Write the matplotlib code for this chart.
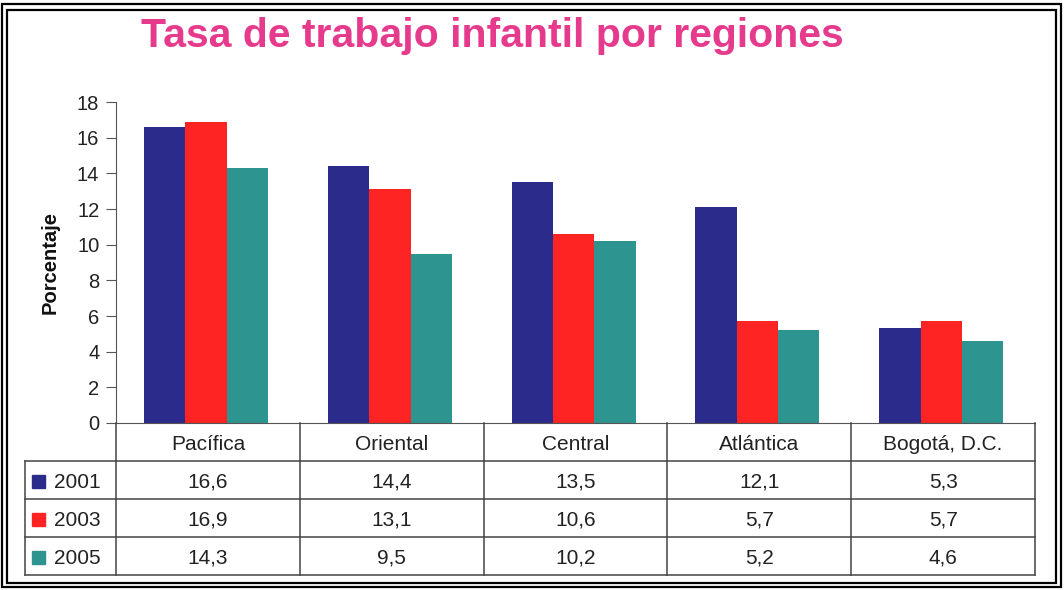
import matplotlib
matplotlib.use("Agg")
import matplotlib.pyplot as plt
from matplotlib.patches import Rectangle
import numpy as np

categories = ["Pacífica", "Oriental", "Central", "Atlántica", "Bogotá, D.C."]
series_names = ["2001", "2003", "2005"]
v2001 = [16.6, 14.4, 13.5, 12.1, 5.3]
v2003 = [16.9, 13.1, 10.6, 5.7, 5.7]
v2005 = [14.3, 9.5, 10.2, 5.2, 4.6]
series_values = [v2001, v2003, v2005]
colors = ["#2B2B8C", "#FF2424", "#2E9490"]
yticks = [0, 2, 4, 6, 8, 10, 12, 14, 16, 18]
title = "Tasa de trabajo infantil por regiones"
ylabel = "Porcentaje"

W, H = 1064, 590
plt.rcParams['font.family'] = ['Liberation Sans', 'DejaVu Sans']
fig = plt.figure(figsize=(W / 100, H / 100), dpi=100)
fig.patch.set_facecolor("white")

# layout in pixels
ax_l, ax_r, ax_top, ax_bot = 116, 1035, 102, 423
ax = fig.add_axes([ax_l / W, (H - ax_bot) / H, (ax_r - ax_l) / W, (ax_bot - ax_top) / H])

n = len(categories)
x = np.arange(n)
bw = 0.225
for i, (name, vals) in enumerate(zip(series_names, series_values)):
    ax.bar(x + (i - 1) * bw - 0.01, vals, width=bw, color=colors[i], edgecolor="none", zorder=2)

ax.set_xlim(-0.5, n - 0.5)
ax.set_ylim(0, 18)
ax.set_yticks(yticks)
ax.set_yticklabels([str(t) for t in yticks], fontsize=14.5, color="#222222")
ax.set_xticks([])
for s in ["top", "right"]:
    ax.spines[s].set_visible(False)
ax.spines["left"].set_color("#555555")
ax.spines["bottom"].set_color("#555555")
ax.tick_params(axis="y", direction="out", length=7, color="#555555", pad=5)
ax.set_ylabel(ylabel, fontsize=14.5, fontweight="bold", color="#111111")
ax.yaxis.set_label_coords((60 - ax_l) / (ax_r - ax_l), 0.5)

# overlay axes for table, title, border (pixel coordinates)
ov = fig.add_axes([0, 0, 1, 1], zorder=5)
ov.set_xlim(0, W)
ov.set_ylim(H, 0)
ov.axis("off")
ov.patch.set_alpha(0)

# double border
ov.add_patch(Rectangle((2, 4), W - 5, H - 7, fill=False, lw=1.6, ec="black"))
ov.add_patch(Rectangle((7, 10), W - 15, H - 17, fill=False, lw=1.6, ec="black"))

ov.text(492, 47, title, fontsize=29.5, fontweight="bold", color="#E63A8C",
        ha="center", va="baseline")

# table
col_w = (ax_r - ax_l) / n
col_edges = [ax_l + k * col_w for k in range(n + 1)]
row_edges = [423, 461, 499, 537, 575]
tab_left = 25
lc = "#444444"
fs = 15
for xe in col_edges:
    ov.plot([xe, xe], [row_edges[0], row_edges[-1]], color=lc, lw=1.1)
for ye in row_edges[1:]:
    ov.plot([tab_left, ax_r], [ye, ye], color=lc, lw=1.1)
ov.plot([tab_left, tab_left], [row_edges[1], row_edges[-1]], color=lc, lw=1.1)

for k, cat in enumerate(categories):
    cx = (col_edges[k] + col_edges[k + 1]) / 2
    ov.text(cx, (row_edges[0] + row_edges[1]) / 2 + 2, cat, fontsize=fs,
            ha="center", va="center", color="#222222")
    for r, vals in enumerate(series_values):
        cy = (row_edges[r + 1] + row_edges[r + 2]) / 2 + 2
        ov.text(cx, cy, f"{vals[k]:.1f}".replace(".", ","), fontsize=fs,
                ha="center", va="center", color="#222222")

for r, name in enumerate(series_names):
    cy = (row_edges[r + 1] + row_edges[r + 2]) / 2 + 1
    ov.add_patch(Rectangle((32, cy - 6), 13, 13, color=colors[r]))
    ov.text(54, cy + 1, name, fontsize=fs, ha="left", va="center", color="#222222")

fig.savefig("out.png", dpi=100)
